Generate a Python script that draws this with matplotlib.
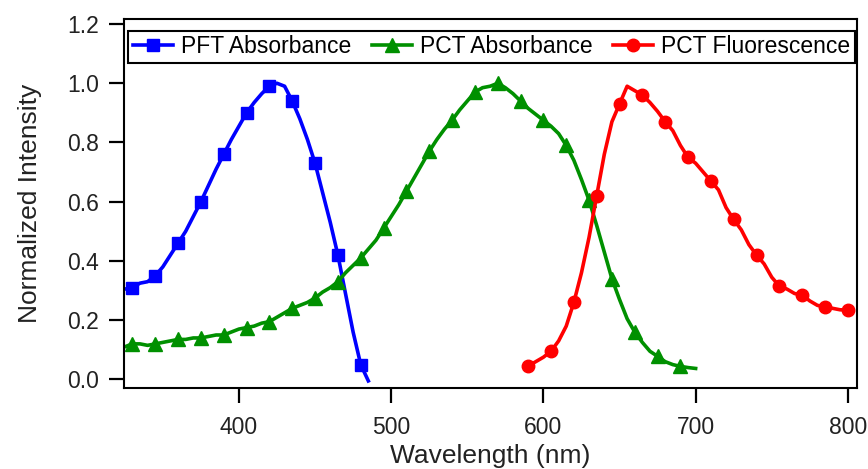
import numpy as np
import matplotlib
matplotlib.use('Agg')
import matplotlib.pyplot as plt

plt.rcParams['font.family'] = ['Liberation Sans', 'DejaVu Sans']

# PFT absorbance, 5 nm steps from 325 to 485 nm
pft_wl = np.arange(325, 490, 5)
pft_abs = [0.305, 0.31, 0.325, 0.33, 0.35, 0.38, 0.42, 0.46, 0.50, 0.55, 0.60,
           0.655, 0.71, 0.76, 0.81, 0.855, 0.90, 0.935, 0.965, 0.99, 1.0, 0.99,
           0.94, 0.88, 0.81, 0.73, 0.63, 0.53, 0.42, 0.29, 0.16, 0.05, -0.005]

# PCT absorbance, 5 nm steps from 325 to 700 nm
pct_wl = np.arange(325, 705, 5)
pct_abs = [0.11, 0.12, 0.12, 0.115, 0.12, 0.125, 0.13, 0.135, 0.135, 0.14,
           0.14, 0.145, 0.15, 0.15, 0.16, 0.17, 0.175, 0.18, 0.19, 0.195,
           0.21, 0.225, 0.24, 0.25, 0.26, 0.275, 0.295, 0.31, 0.33, 0.36,
           0.385, 0.41, 0.44, 0.47, 0.51, 0.55, 0.59, 0.635, 0.68, 0.725,
           0.77, 0.81, 0.845, 0.875, 0.91, 0.94, 0.97, 0.985, 0.99, 1.0,
           0.985, 0.965, 0.94, 0.915, 0.895, 0.875, 0.855, 0.83, 0.79, 0.74,
           0.675, 0.605, 0.52, 0.43, 0.34, 0.27, 0.205, 0.16, 0.125, 0.095,
           0.078, 0.06, 0.05, 0.044, 0.04, 0.037]

# PCT fluorescence, 5 nm steps from 590 to 800 nm
fl_wl = np.arange(590, 805, 5)
pct_fl = [0.045, 0.06, 0.075, 0.095, 0.13, 0.18, 0.26, 0.36, 0.48, 0.62,
          0.76, 0.87, 0.93, 0.99, 0.975, 0.96, 0.935, 0.905, 0.87, 0.84,
          0.79, 0.75, 0.73, 0.70, 0.67, 0.64, 0.58, 0.54, 0.505, 0.455,
          0.42, 0.39, 0.345, 0.315, 0.305, 0.29, 0.285, 0.265, 0.25, 0.245,
          0.24, 0.235, 0.235]

fig = plt.figure(figsize=(8.68, 4.69), dpi=100)
ax = fig.add_axes([124 / 868, 1 - 388 / 469, 733 / 868, 369 / 469])

lw = 2.6
ax.plot(pft_wl, pft_abs, color='#0000ff', lw=lw, marker='s', ms=8.5,
        markevery=(1, 3), label='PFT Absorbance')
ax.plot(pct_wl, pct_abs, color='#009000', lw=lw, marker='^', ms=9.5,
        markevery=(1, 3), label='PCT Absorbance')
ax.plot(fl_wl, pct_fl, color='#ff0000', lw=lw, marker='o', ms=9,
        markevery=(0, 3), label='PCT Fluorescence')

ax.set_xlim(324.5, 806)
ax.set_ylim(-0.029, 1.217)
ax.set_xticks([400, 500, 600, 700, 800])
ax.set_yticks(np.arange(0, 1.21, 0.2))
ax.yaxis.set_major_formatter(matplotlib.ticker.FormatStrFormatter('%.1f'))

for s in ax.spines.values():
    s.set_linewidth(1.5)
ax.tick_params(axis='both', direction='out', length=11, width=1.6,
               labelsize=16.5, colors='black', labelcolor='#222222')
ax.tick_params(axis='x', pad=9)
ax.tick_params(axis='y', pad=7)

ax.set_xlabel('Wavelength (nm)', fontsize=19, color='#222222', labelpad=3.5)
ax.set_ylabel('Normalized Intensity', fontsize=19, color='#222222', labelpad=18)

leg = ax.legend(loc='lower left', bbox_to_anchor=(0.0055, 0.881, 0.992, 0.089),
                mode='expand', ncol=3, fontsize=16.5, handlelength=1.75,
                handletextpad=0.35, columnspacing=0.5, borderaxespad=0,
                borderpad=0.2, fancybox=False, framealpha=1)
leg.get_frame().set_edgecolor('black')
leg.get_frame().set_linewidth(1.5)

fig.savefig('out.png', dpi=100)
